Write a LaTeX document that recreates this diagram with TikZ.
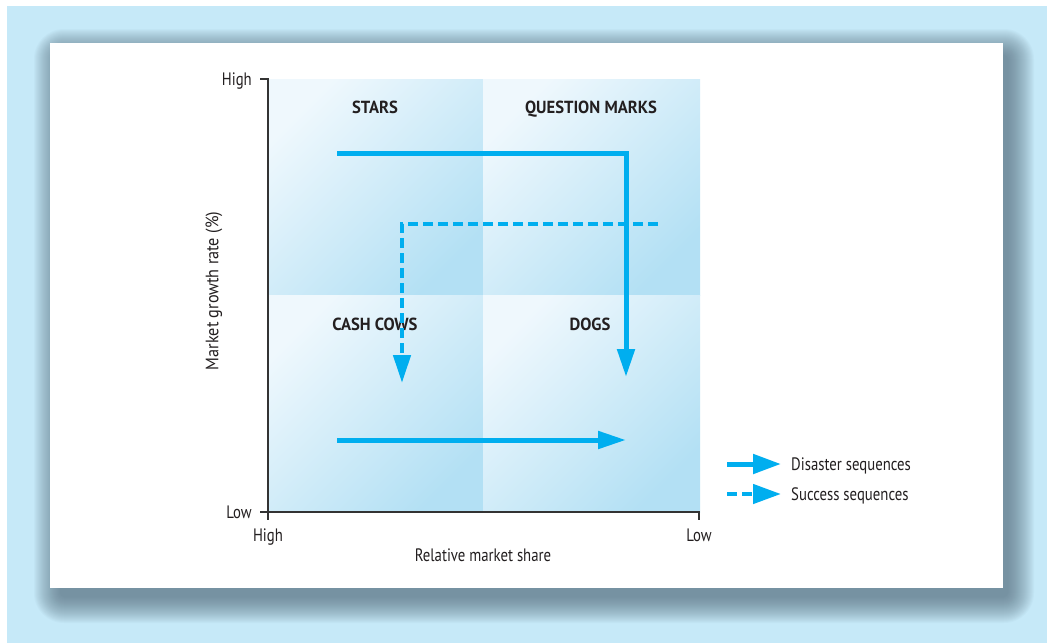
\documentclass[tikz,border=0pt]{standalone}
\usepackage{fontspec}
\setmainfont{PT Sans}
\newfontfamily\regfont{PT Sans}[FakeStretch=0.82]
\newfontfamily\widefont{PT Sans}[FakeStretch=0.9]
\newfontfamily\boldfont{PT Sans}[FakeStretch=0.95]
\usetikzlibrary{arrows.meta}
\definecolor{bgblue}{HTML}{C6E9F8}
\definecolor{shad}{HTML}{53697A}
\definecolor{cyanline}{HTML}{00AEEF}
\definecolor{qlight}{HTML}{EFF8FD}
\definecolor{qdark}{HTML}{B3E0F4}
\definecolor{axiscol}{HTML}{333333}
\definecolor{txt}{HTML}{231F20}
\begin{document}
\begin{tikzpicture}[x=1pt,y=-1pt,
  quad/.style={top color=qlight,bottom color=qdark,shading angle=45,draw=none},
  qlabel/.style={font=\boldfont\bfseries\fontsize{17.5}{20}\selectfont,text=txt,inner sep=0pt,anchor=base},
  axlabel/.style={font=\regfont\fontsize{18}{20}\selectfont,text=txt,inner sep=0pt,anchor=base},
  axisline/.style={draw=axiscol,line width=1.4pt},
  seq/.style={draw=cyanline,line width=5pt,line join=miter,-{Triangle[length=28pt,width=17pt,fill=cyanline]}},
  sdash/.style={seq,line width=4.5pt,dash pattern=on 10pt off 5pt}]
\useasboundingbox (0,0) rectangle (1047,643);
\fill[white] (0,0) rectangle (1047,643);
\fill[bgblue] (7,6) rectangle (1047,643);
% shadow
\foreach \i in {0,...,26}{%
  \pgfmathsetmacro\d{26-\i}%
  \pgfmathsetmacro\r{\d+4}%
  \fill[shad,opacity=0.035,rounded corners=\r pt] (60-\d,55-\d) rectangle (1008+\d,597+\d);
}
% panel
\fill[white] (50,43) rectangle (1003,588);
% quadrants
\shade[quad] (268,79) rectangle (483,295);
\shade[quad] (483,79) rectangle (700,295);
\shade[quad] (268,295) rectangle (483,512);
\shade[quad] (483,295) rectangle (700,512);
% axes
\draw[axisline] (260,79) -- (268,79) -- (268,520);
\draw[axisline] (260,512) -- (699,512) -- (699,520);
% axis labels
\node[axlabel,anchor=base east] (yhigh) at (252,85) {High};
\node[axlabel,anchor=base east] (ylow) at (252,518) {Low};
\node[axlabel] (xhigh) at (268,541) {High};
\node[axlabel] (xlow) at (699,541) {Low};
\node[axlabel] (xtitle) at (483,561) {Relative market share};
\node[axlabel,font=\widefont\fontsize{18}{20}\selectfont,anchor=center,rotate=90] (ytitle) at (214,291) {Market growth rate (\%)};
% quadrant labels
\node[qlabel] (stars) at (375,113) {STARS};
\node[qlabel] (qm) at (591,113) {QUESTION MARKS};
\node[qlabel] (cows) at (375,330) {CASH COWS};
\node[qlabel] (dogs) at (590,330) {DOGS};
% sequences
\coordinate (d1a) at (337,153);
\coordinate (d1b) at (626,153);
\coordinate (d1c) at (626,377);
\draw[seq] (d1a) -- (d1b) -- (d1c);
\coordinate (d2a) at (337,440);
\coordinate (d2b) at (626,440);
\draw[seq] (d2a) -- (d2b);
\coordinate (s1a) at (658,224);
\coordinate (s1b) at (402,224);
\coordinate (s1c) at (402,383);
\draw[sdash] (s1a) -- (s1b) -- (s1c);
% legend
\coordinate (l1a) at (727,464);
\coordinate (l1b) at (781,464);
\draw[seq,-{Triangle[length=28pt,width=19pt,fill=cyanline]}] (l1a) -- (l1b);
\coordinate (l2a) at (727,494);
\coordinate (l2b) at (781,494);
\draw[sdash,-{Triangle[length=28pt,width=19pt,fill=cyanline]}] (l2a) -- (l2b);
\node[axlabel,anchor=base west] (ldis) at (791,470) {Disaster sequences};
\node[axlabel,anchor=base west] (lsuc) at (791,500) {Success sequences};
\end{tikzpicture}
\end{document}
